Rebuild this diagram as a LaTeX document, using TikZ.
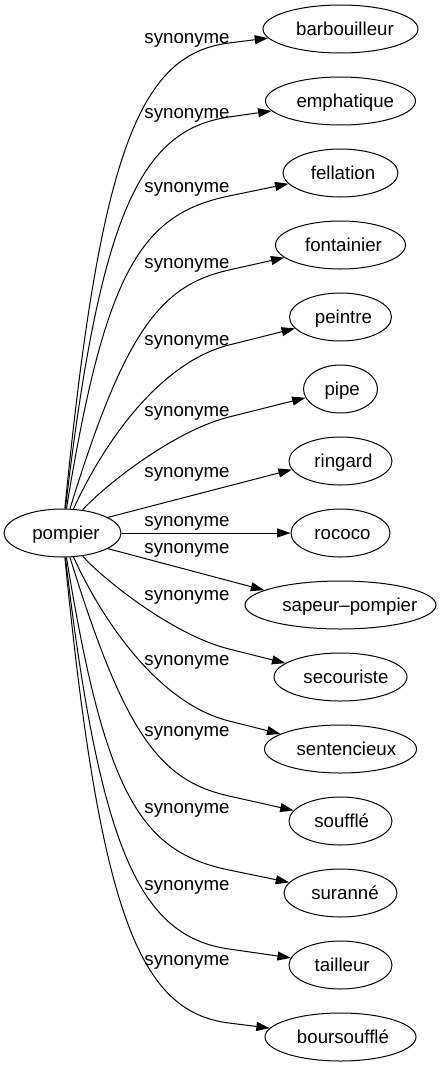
\documentclass[tikz,border=0pt]{standalone}
\usepackage{fontspec}
\setmainfont{Liberation Sans}
\usetikzlibrary{shapes.geometric,arrows.meta,calc}
\newcommand{\shtxt}[2]{\makebox[0pt]{\hspace*{#1}#2}}
\begin{document}
\begin{tikzpicture}[x=0.75pt,y=-0.75pt,
  every node/.style={font=\fontsize{14pt}{16pt}\selectfont},
  word/.style={draw, ellipse, line width=0.75pt, inner sep=0pt, minimum height=36pt, minimum width=#1*0.75pt, text height=10pt, text depth=0.7pt},
  lab/.style={inner sep=0pt},
  edge/.style={line width=0.75pt, -{Triangle[length=10pt,width=6.75pt]}}]
\useasboundingbox (0,0) rectangle (442,1067);
% nodes
\node[word=117] (pompier) at (62.5,533) {\shtxt{5.25pt}{pompier}};
\node[word=155] (barbouilleur) at (340.5,29) {\shtxt{6.75pt}{barbouilleur}};
\node[word=150] (emphatique) at (340.5,101) {\shtxt{7.2pt}{emphatique}};
\node[word=115] (fellation) at (340.5,173) {\shtxt{3.75pt}{fellation}};
\node[word=130] (fontainier) at (340.5,245) {\shtxt{4.5pt}{fontainier}};
\node[word=102] (peintre) at (340.5,317) {\shtxt{4.5pt}{peintre}};
\node[word=74] (pipe) at (340.5,389) {\shtxt{2.5pt}{pipe}};
\node[word=103] (ringard) at (340.5,461) {\shtxt{4.5pt}{ringard}};
\node[word=99] (rococo) at (340.5,533) {\shtxt{3pt}{rococo}};
\node[word=191] (sapeur) at (340.5,605) {\shtxt{14pt}{sapeur–pompier}};
\node[word=133] (secouriste) at (340.5,677) {\shtxt{8.25pt}{secouriste}};
\node[word=152] (sentencieux) at (340.5,749) {\shtxt{8.8pt}{sentencieux}};
\node[word=103] (souffle) at (340.5,821) {\shtxt{1.8pt}{soufflé}};
\node[word=113] (suranne) at (340.5,893) {\shtxt{6.75pt}{suranné}};
\node[word=103] (tailleur) at (340.5,965) {\shtxt{2.5pt}{tailleur}};
\node[word=151] (boursouffle) at (340.5,1037) {\shtxt{3.75pt}{boursoufflé}};
% labels
\node[lab] (l0) at (187,40) {synonyme};
\node[lab] (l1) at (187,115) {synonyme};
\node[lab] (l2) at (187,189) {synonyme};
\node[lab] (l3) at (187,265) {synonyme};
\node[lab] (l4) at (187,342) {synonyme};
\node[lab] (l5) at (187,413) {synonyme};
\node[lab] (l6) at (187,474) {synonyme};
\node[lab] (l7) at (187,523) {synonyme};
\node[lab] (l8) at (187,550) {synonyme};
\node[lab] (l9) at (187,597) {synonyme};
\node[lab] (l10) at (187,662) {synonyme};
\node[lab] (l11) at (187,733) {synonyme};
\node[lab] (l12) at (187,810) {synonyme};
\node[lab] (l13) at (187,887) {synonyme};
\node[lab] (l14) at (187,962) {synonyme};
% waypoints
\coordinate (w0) at (229,43);
\coordinate (w1) at (229,117);
\coordinate (w2) at (229,196);
\coordinate (w3) at (229,270);
\coordinate (w4) at (229,345);
\coordinate (w5) at (229,417);
\coordinate (v0) at (229,1023);
\coordinate (v1) at (229,949);
\coordinate (v2) at (229,870);
\coordinate (v3) at (229,796);
\coordinate (v4) at (229,721);
\coordinate (v5) at (229,649);
% edges
\draw[edge] (pompier) .. controls (100,150) and ($(w0)!-67.5pt!(barbouilleur)$) .. (w0) -- (barbouilleur);
\draw[edge] (pompier) .. controls (100,215) and ($(w1)!-67.5pt!(emphatique)$) .. (w1) -- (emphatique);
\draw[edge] (pompier) .. controls (105,271) and ($(w2)!-67.5pt!(fellation)$) .. (w2) -- (fellation);
\draw[edge] (pompier) .. controls (125,330) and ($(w3)!-52.5pt!(fontainier)$) .. (w3) -- (fontainier);
\draw[edge] (pompier) .. controls (105,440) and ($(w4)!-52.5pt!(peintre)$) .. (w4) -- (peintre);
\draw[edge] (pompier) .. controls (100,490) and ($(w5)!-45pt!(pipe)$) .. (w5) -- (pipe);
\draw[edge] (pompier.19) -- (ringard.190);
\draw[edge] (pompier) -- (rococo);
\draw[edge] (pompier.-19) -- (sapeur.169);
\draw[edge] (pompier) .. controls (100,576) and ($(v5)!-45pt!(secouriste)$) .. (v5) -- (secouriste);
\draw[edge] (pompier) .. controls (105,626) and ($(v4)!-52.5pt!(sentencieux)$) .. (v4) -- (sentencieux);
\draw[edge] (pompier) .. controls (125,736) and ($(v3)!-52.5pt!(souffle)$) .. (v3) -- (souffle);
\draw[edge] (pompier) .. controls (105,795) and ($(v2)!-67.5pt!(suranne)$) .. (v2) -- (suranne);
\draw[edge] (pompier) .. controls (100,851) and ($(v1)!-67.5pt!(tailleur)$) .. (v1) -- (tailleur);
\draw[edge] (pompier) .. controls (100,916) and ($(v0)!-67.5pt!(boursouffle)$) .. (v0) -- (boursouffle);
\end{tikzpicture}
\end{document}
